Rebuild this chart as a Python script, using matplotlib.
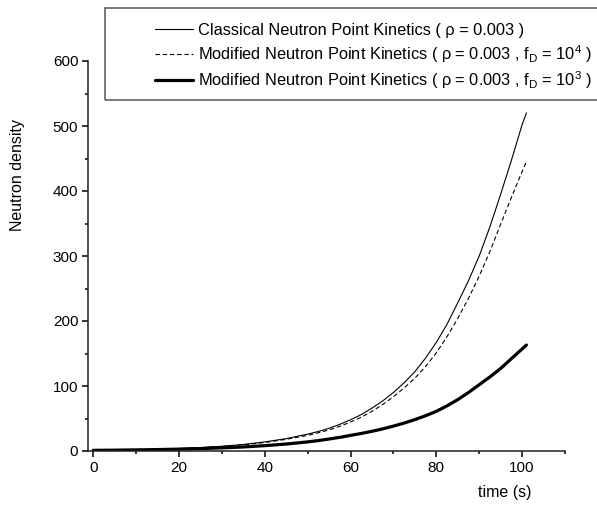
import numpy as np
import matplotlib.pyplot as plt
from matplotlib.patches import Rectangle
from matplotlib.ticker import MultipleLocator

plt.rcParams['font.family'] = ['Liberation Sans', 'DejaVu Sans']
plt.rcParams['mathtext.fontset'] = 'custom'
plt.rcParams['mathtext.rm'] = 'Liberation Sans'
plt.rcParams['mathtext.it'] = 'Liberation Sans'

# time (s)
t = [0, 5, 10, 15, 20, 25, 30, 35, 40, 45,
     50, 52.5, 55, 57.5, 60, 62.5, 65, 67.5, 70, 72.5, 75, 77.5,
     80, 82.5, 85, 87.5, 90, 92.5, 95, 97.5, 100, 101]
# classical point kinetics, rho = 0.003
classical = [1, 1.4, 2.0, 2.8, 3.8, 5.3, 7.3, 10, 14, 19,
             26, 30, 35, 41, 48, 56, 66, 77, 90, 105, 122, 143,
             167, 195, 228, 262, 300, 345, 395, 447, 502, 520]
# modified, fD = 1e4
mod_fd4 = [1, 1.4, 1.9, 2.7, 3.7, 5, 7, 9.5, 13, 18,
           24, 28, 32.5, 38, 44.5, 52, 61, 71.5, 83.5, 97, 112, 130,
           151, 176, 204, 235, 269, 307, 349, 390, 430, 445]
# modified, fD = 1e3
mod_fd3 = [1, 1.3, 1.7, 2.2, 2.9, 3.7, 4.8, 6.2, 8.2, 10.7,
           14, 16, 18.5, 21, 24, 27, 30.3, 34, 38.3, 43, 48.3, 54.3,
           61, 69.5, 79, 90, 102, 114, 127, 142, 157, 163]

labels = [
    'Classical Neutron Point Kinetics ( ρ = 0.003 )',
    r'Modified Neutron Point Kinetics ( ρ = 0.003 , f$_\mathregular{D}$ = 10$^\mathregular{4}$ )',
    r'Modified Neutron Point Kinetics ( ρ = 0.003 , f$_\mathregular{D}$ = 10$^\mathregular{3}$ )',
]

W, H = 597, 507
fig = plt.figure(figsize=(W / 100, H / 100), dpi=100)
ax = fig.add_axes([88 / W, 1 - 451 / H, (565 - 88) / W, (451 - 61) / H])

l1, = ax.plot(t, classical, color='black', lw=0.8)
l2, = ax.plot(t, mod_fd4, color='black', lw=0.8, dashes=(4, 2.5))
l3, = ax.plot(t, mod_fd3, color='black', lw=2.3, solid_capstyle='round')

ax.set_xlim(-1.2, 110)
ax.set_ylim(0, 600)
for s in ['top', 'right']:
    ax.spines[s].set_visible(False)
for s in ['left', 'bottom']:
    ax.spines[s].set_linewidth(1.1)
    ax.spines[s].set_color('#202020')

ax.xaxis.set_major_locator(MultipleLocator(20))
ax.xaxis.set_minor_locator(MultipleLocator(10))
ax.yaxis.set_major_locator(MultipleLocator(100))
ax.yaxis.set_minor_locator(MultipleLocator(50))
ax.tick_params(which='major', direction='out', length=4, width=1.1, labelsize=11, pad=3)
ax.tick_params(which='minor', direction='out', length=2.5, width=1.1)

fig.text(505 / W, 1 - 493 / H, 'time (s)', ha='center', va='center', fontsize=11.5)
fig.text(18 / W, 1 - 175 / H, 'Neutron density', ha='center', va='center', rotation=90, fontsize=11.5)

# legend box runs off the right edge
fig.patches.append(Rectangle((105 / W, 1 - 100 / H), 600 / W, 92 / H, transform=fig.transFigure,
                             fill=False, edgecolor='#606060', lw=1.2))
fig.legend([l1, l2, l3], labels, loc='upper left', bbox_to_anchor=(155 / W, 1 - 23 / H),
           frameon=False, fontsize=11.8, handlelength=2.3, handletextpad=0.3, labelspacing=0.3,
           borderpad=0, borderaxespad=0)

fig.savefig('out.png', dpi=100)
